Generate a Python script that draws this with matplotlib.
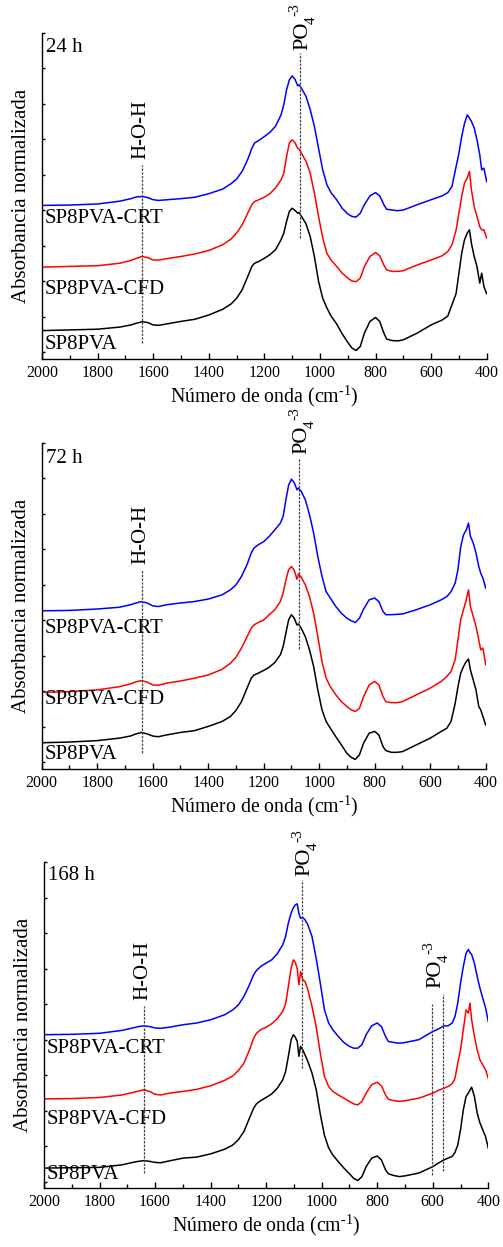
import matplotlib
matplotlib.use("Agg")
import matplotlib.pyplot as plt
from matplotlib.ticker import MultipleLocator

plt.rcParams['font.family'] = ['Liberation Serif', 'DejaVu Serif']
plt.rcParams['mathtext.fontset'] = 'custom'
plt.rcParams['mathtext.rm'] = 'Liberation Serif'
plt.rcParams['mathtext.it'] = 'Liberation Serif:italic'

# ---------------- data ----------------
panel_titles = ["24 h", "72 h", "168 h"]
sample_labels = ["SP8PVA-CRT", "SP8PVA-CFD", "SP8PVA"]

wn_a = [2000, 1900, 1800, 1720, 1680, 1660, 1640, 1620, 1600, 1580, 1550, 1500, 1450, 1400,
        1350, 1320, 1300, 1280, 1260, 1245, 1235, 1220, 1200, 1180, 1160, 1140, 1130, 1120,
        1110, 1100, 1090, 1080, 1075, 1065, 1050, 1035, 1020, 1005, 990, 975, 960, 940, 920,
        900, 885, 870, 855, 840, 820, 800, 785, 770, 760, 740, 720, 700, 650, 600, 560, 540,
        525, 510, 500, 490, 480, 470, 462, 455, 445, 435, 425, 418, 410, 400]

blue_24 = [4.14, 4.15, 4.18, 4.26, 4.33, 4.38, 4.39, 4.36, 4.30, 4.28, 4.30, 4.33, 4.37, 4.47,
           4.60, 4.75, 4.88, 5.10, 5.43, 5.75, 5.90, 5.97, 6.08, 6.20, 6.37, 6.69, 6.98, 7.40,
           7.68, 7.79, 7.70, 7.51, 7.54, 7.42, 7.21, 6.84, 6.37, 5.75, 5.14, 4.72, 4.50, 4.30,
           4.06, 3.90, 3.83, 3.81, 3.92, 4.16, 4.41, 4.50, 4.41, 4.16, 4.03, 4.01, 3.99, 4.01,
           4.16, 4.30, 4.41, 4.50, 4.67, 5.24, 5.61, 6.08, 6.45, 6.69, 6.60, 6.51, 6.32, 5.99,
           5.57, 5.14, 5.19, 4.81]
red_24 = [2.40, 2.42, 2.44, 2.51, 2.59, 2.65, 2.70, 2.67, 2.60, 2.60, 2.64, 2.70, 2.77, 2.87,
          3.03, 3.19, 3.36, 3.59, 3.92, 4.16, 4.25, 4.30, 4.37, 4.47, 4.63, 4.86, 5.05, 5.52,
          5.90, 5.99, 5.91, 5.75, 5.73, 5.59, 5.38, 5.05, 4.49, 3.83, 3.22, 2.79, 2.60, 2.42,
          2.23, 2.09, 2.01, 1.99, 2.09, 2.42, 2.70, 2.81, 2.72, 2.46, 2.32, 2.28, 2.28, 2.30,
          2.46, 2.60, 2.72, 2.84, 3.03, 3.45, 3.92, 4.39, 4.77, 4.91, 5.10, 4.58, 4.11, 3.83,
          3.54, 3.45, 3.45, 3.22]
black_24 = [0.61, 0.63, 0.65, 0.71, 0.77, 0.82, 0.86, 0.84, 0.77, 0.76, 0.80, 0.87, 0.93, 1.05,
            1.21, 1.36, 1.52, 1.76, 2.13, 2.42, 2.51, 2.56, 2.65, 2.75, 2.89, 3.17, 3.36, 3.69,
            3.97, 4.06, 4.00, 3.92, 3.94, 3.81, 3.62, 3.26, 2.70, 2.00, 1.52, 1.25, 1.02, 0.80,
            0.52, 0.28, 0.12, 0.05, 0.16, 0.54, 0.87, 0.98, 0.87, 0.54, 0.37, 0.33, 0.32, 0.35,
            0.54, 0.77, 0.91, 1.02, 1.34, 1.66, 2.23, 2.79, 3.17, 3.36, 3.45, 3.07, 2.70, 2.42,
            1.95, 2.23, 1.85, 1.65]

blue_72 = [4.27, 4.28, 4.32, 4.37, 4.44, 4.49, 4.53, 4.49, 4.41, 4.39, 4.44, 4.49, 4.53, 4.60,
           4.72, 4.86, 5.00, 5.24, 5.57, 5.90, 6.04, 6.13, 6.22, 6.37, 6.55, 6.74, 6.93, 7.40,
           7.82, 7.98, 7.88, 7.68, 7.73, 7.64, 7.40, 6.98, 6.46, 5.80, 5.24, 4.81, 4.63, 4.39,
           4.20, 4.06, 3.99, 3.94, 4.06, 4.32, 4.58, 4.63, 4.53, 4.25, 4.16, 4.16, 4.17, 4.18,
           4.30, 4.44, 4.58, 4.67, 4.81, 5.05, 5.43, 6.08, 6.41, 6.55, 6.74, 6.37, 6.18, 5.90,
           5.52, 5.33, 5.19, 4.91]
red_72 = [1.97, 1.99, 2.04, 2.13, 2.21, 2.27, 2.30, 2.26, 2.18, 2.17, 2.23, 2.29, 2.37, 2.46,
          2.62, 2.79, 2.96, 3.22, 3.54, 3.78, 3.87, 3.94, 4.01, 4.16, 4.30, 4.53, 4.77, 5.14,
          5.43, 5.52, 5.41, 5.16, 5.31, 5.22, 5.00, 4.67, 4.20, 3.54, 2.84, 2.37, 2.13, 1.90,
          1.71, 1.57, 1.48, 1.43, 1.52, 1.85, 2.18, 2.28, 2.18, 1.85, 1.71, 1.68, 1.68, 1.71,
          1.90, 2.09, 2.28, 2.42, 2.56, 2.89, 3.45, 4.02, 4.30, 4.58, 4.86, 4.39, 4.11, 3.83,
          3.45, 3.17, 3.22, 2.75]
black_72 = [0.55, 0.57, 0.61, 0.68, 0.74, 0.80, 0.84, 0.80, 0.74, 0.72, 0.77, 0.84, 0.89, 1.01,
            1.15, 1.29, 1.46, 1.71, 2.09, 2.37, 2.46, 2.51, 2.59, 2.68, 2.81, 3.03, 3.26, 3.64,
            4.02, 4.16, 4.06, 3.87, 3.90, 3.78, 3.54, 3.17, 2.70, 2.04, 1.48, 1.15, 0.96, 0.72,
            0.49, 0.25, 0.14, 0.08, 0.21, 0.54, 0.82, 0.87, 0.77, 0.44, 0.33, 0.28, 0.28, 0.30,
            0.49, 0.68, 0.87, 0.96, 1.15, 1.66, 2.13, 2.51, 2.70, 2.84, 2.91, 2.60, 2.32, 2.04,
            1.57, 1.48, 1.29, 1.05]

wn_b = [2000, 1900, 1800, 1720, 1680, 1660, 1640, 1620, 1600, 1580, 1550, 1500, 1450, 1400,
        1350, 1320, 1300, 1280, 1260, 1245, 1235, 1220, 1200, 1180, 1160, 1140, 1130, 1120,
        1110, 1102, 1095, 1088, 1082, 1076, 1068, 1060, 1050, 1035, 1020, 1005, 990, 975, 960,
        940, 920, 900, 885, 870, 855, 840, 820, 800, 785, 770, 760, 740, 720, 700, 650, 600,
        580, 560, 545, 530, 520, 510, 500, 490, 480, 472, 466, 460, 450, 440, 430, 420, 410,
        400]

blue_168 = [4.14, 4.15, 4.18, 4.26, 4.33, 4.37, 4.39, 4.37, 4.33, 4.32, 4.35, 4.42, 4.47, 4.56,
            4.70, 4.84, 4.98, 5.22, 5.55, 5.83, 5.95, 6.06, 6.16, 6.25, 6.42, 6.68, 6.91, 7.29,
            7.57, 7.72, 7.80, 7.83, 7.55, 7.42, 7.44, 7.38, 7.24, 6.91, 6.30, 5.59, 4.84, 4.47,
            4.28, 4.09, 3.92, 3.81, 3.76, 3.76, 3.86, 4.14, 4.39, 4.47, 4.37, 4.09, 3.95, 3.92,
            3.90, 3.92, 4.00, 4.23, 4.30, 4.39, 4.39, 4.47, 4.65, 5.03, 5.59, 6.06, 6.44, 6.54,
            6.46, 6.40, 6.15, 5.78, 5.45, 5.17, 4.90, 4.51]
red_168 = [2.33, 2.34, 2.37, 2.44, 2.51, 2.55, 2.59, 2.54, 2.46, 2.44, 2.49, 2.54, 2.60, 2.70,
           2.85, 2.98, 3.13, 3.34, 3.71, 4.04, 4.18, 4.28, 4.35, 4.45, 4.59, 4.80, 5.01, 5.50,
           6.02, 6.25, 6.18, 6.00, 5.55, 5.92, 5.69, 5.64, 5.41, 4.94, 4.37, 3.62, 2.96, 2.68,
           2.54, 2.44, 2.35, 2.26, 2.19, 2.16, 2.26, 2.49, 2.73, 2.80, 2.70, 2.44, 2.32, 2.28,
           2.26, 2.28, 2.35, 2.49, 2.57, 2.63, 2.68, 2.76, 2.91, 3.34, 3.71, 4.28, 4.84, 4.75,
           5.03, 4.56, 4.09, 3.71, 3.43, 3.29, 3.15, 2.91]
black_168 = [0.38, 0.39, 0.40, 0.47, 0.54, 0.57, 0.59, 0.57, 0.54, 0.53, 0.58, 0.66, 0.69, 0.78,
             0.91, 1.03, 1.18, 1.41, 1.79, 2.07, 2.19, 2.28, 2.37, 2.47, 2.63, 2.87, 3.10, 3.53,
             4.00, 4.14, 4.07, 3.95, 3.53, 3.81, 3.71, 3.57, 3.39, 3.06, 2.60, 1.90, 1.30, 0.95,
             0.75, 0.56, 0.38, 0.22, 0.09, 0.03, 0.14, 0.42, 0.66, 0.72, 0.61, 0.33, 0.22, 0.17,
             0.14, 0.16, 0.24, 0.42, 0.52, 0.61, 0.66, 0.71, 0.82, 1.03, 1.46, 2.02, 2.40, 2.49,
             2.58, 2.66, 2.40, 1.93, 1.65, 1.46, 1.27, 0.94]

panels = [
    (wn_a, black_24, red_24, blue_24),
    (wn_a, black_72, red_72, blue_72),
    (wn_b, black_168, red_168, blue_168),
]

# marker lines: (x, y_bottom, y_top)
hoh_lines = [(1640, 0.25, 5.28), (1638, 0.25, 5.43), (1639, 0.25, 4.94)]
po4_lines = [(1072, 3.22, 8.43), (1072, 3.19, 8.58), (1070, 3.20, 8.51)]
po4_low_lines = [(603, 0.19, 5.01), (564, 0.31, 5.29)]

# ---------------- figure ----------------
W, H = 503, 1247
fig = plt.figure(figsize=(W / 100, H / 100), dpi=100)

axes_px = [(42, 359, 444.7), (41.7, 769, 444), (44, 1188.3, 444.3)]  # left, bottom, width
ax_h = 326

label_y = [3.76, 1.76, 0.21]
title_y = [8.59, 8.56, 8.62]
PX = 72 / 100  # points per pixel


def po4_label(ax, x, y):
    kw = dict(xycoords='data', textcoords='offset points', rotation=90,
              ha='center', va='bottom', annotation_clip=False)
    ax.annotate('PO', (x, y), xytext=(0, 0), fontsize=16, **kw)
    ax.annotate('4', (x, y), xytext=(8.5 * PX, 26 * PX), fontsize=11, **kw)
    ax.annotate('-3', (x, y), xytext=(-7.5 * PX, 34 * PX), fontsize=11, **kw)


for i, (wn, bk, rd, bl) in enumerate(panels):
    l, b, w = axes_px[i]
    ax = fig.add_axes([l / W, 1 - b / H, w / W, ax_h / H])
    ax.plot(wn, bk, color='black', lw=1.1)
    ax.plot(wn, rd, color='#ff0000', lw=1.1)
    ax.plot(wn, bl, color='#0000ff', lw=1.1)

    ax.set_xlim(2000, 400)
    ax.set_ylim(-0.19, 9.0)
    for s in ['top', 'right']:
        ax.spines[s].set_visible(False)
    for s in ['left', 'bottom']:
        ax.spines[s].set_linewidth(1.0)

    ax.xaxis.set_major_locator(MultipleLocator(200))
    ax.xaxis.set_minor_locator(MultipleLocator(100))
    ax.yaxis.set_major_locator(MultipleLocator(1))
    ax.tick_params(axis='x', which='major', direction='in', length=4.5, width=1,
                   labelsize=11.5, pad=4)
    ax.tick_params(axis='x', which='minor', direction='in', length=2.8, width=1)
    ax.tick_params(axis='y', which='major', direction='in', length=2.5, width=1,
                   labelleft=False)

    ax.set_xlabel(r'Número de onda (cm$^{\text{-1}}$)', fontsize=14.3, labelpad=2)
    ax.set_ylabel('Absorbancia normalizada', fontsize=15, labelpad=8)

    for txt, yy in zip(sample_labels, label_y):
        ax.text(1990, yy, txt, fontsize=15, ha='left', va='center')
    ax.text(1985, title_y[i], panel_titles[i], fontsize=15, ha='left', va='center')

    xh, y0, y1 = hoh_lines[i]
    ax.plot([xh, xh], [y0, y1], color='#444444', lw=0.9, ls=(0, (2, 1)))
    ax.text(xh + 5, y1 + 0.17, 'H-O-H', rotation=90, fontsize=15,
            ha='center', va='bottom')

    xp, y0, y1 = po4_lines[i]
    ax.plot([xp, xp], [y0, y1], color='#444444', lw=0.9, ls=(0, (2, 1)))
    po4_label(ax, xp - 10, y1 + 0.1)

    if i == 2:
        for (xq, y0, y1) in po4_low_lines:
            ax.plot([xq, xq], [y0, y1], color='#444444', lw=0.9, ls=(0, (2, 1)))
        po4_label(ax, 588, 5.45)

fig.savefig('out.png', dpi=100)
